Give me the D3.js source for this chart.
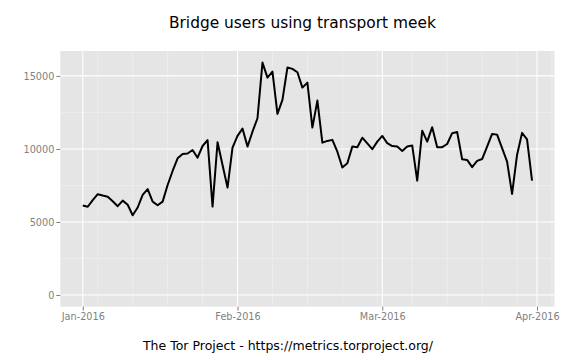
<!DOCTYPE html>
<html><head><meta charset="utf-8">
<script src="https://cdn.jsdelivr.net/npm/d3@7/dist/d3.min.js"></script>
<style>body{margin:0;background:#fff}svg{display:block}text{font-family:"DejaVu Sans",sans-serif}</style>
</head><body><svg id="c" width="576" height="360"></svg>
<script>
const startDate = "2016-01-01";
const users = [6130,6040,6500,6900,6810,6730,6420,6080,6460,6180,
5460,5990,6850,7250,6390,6140,6390,7530,8490,9360,
9660,9690,9930,9400,10200,10600,6050,10460,8900,7350,
10090,10890,11390,10160,11180,12100,15910,14880,15290,12400,
13360,15570,15480,15250,14200,14540,11460,13310,10430,10550,
10620,9810,8730,9020,10160,10120,10770,10380,9980,10500,
10890,10390,10200,10160,9860,10160,10230,7830,11250,10500,
11490,10120,10120,10340,11080,11160,9290,9250,8750,9180,
9310,10160,11030,10980,10050,9130,6920,9590,11100,10660,7830];
const yTicks = [0,5000,10000,15000];
const yMinor = [2500,7500,12500];
const xTickDates = ["2016-01-01","2016-02-01","2016-03-01","2016-04-01"];
const xTickLabels = ["Jan-2016","Feb-2016","Mar-2016","Apr-2016"];
const title = "Bridge users using transport meek";
const caption = "The Tor Project - https://metrics.torproject.org/";

const day = 86400000;
const t0 = Date.parse(startDate+"T00:00:00Z");
const data = users.map((v,i)=>({date:new Date(t0+i*day), v}));

const W=576,H=360;
const P={l:60.3,r:554.5,t:51,b:306.6};
const svg=d3.select("#c");

const dMin=data[0].date.getTime(), dMax=data[data.length-1].date.getTime();
const dx=(dMax-dMin)*0.05;
const x=d3.scaleUtc().domain([new Date(dMin-dx),new Date(dMax+dx)]).range([P.l,P.r]);
const ymax=d3.max(users);
const y=d3.scaleLinear().domain([-0.05*ymax,1.05*ymax]).range([P.b,P.t]);

svg.append("rect").attr("x",P.l).attr("y",P.t).attr("width",P.r-P.l).attr("height",P.b-P.t).attr("fill","#e5e5e5");

const g=svg.append("g");
// minor grid
g.selectAll(".ym").data(yMinor).join("line").attr("x1",P.l).attr("x2",P.r)
 .attr("y1",d=>y(d)).attr("y2",d=>y(d)).attr("stroke","#f2f2f2").attr("stroke-width",0.6);
const weeks=d3.utcMonday.range(x.domain()[0],x.domain()[1]).filter(d=>d.getUTCDate()!==1 && d>=new Date("2016-01-02T00:00:00Z"));
g.selectAll(".xm").data(weeks).join("line").attr("y1",P.t).attr("y2",P.b)
 .attr("x1",d=>x(d)).attr("x2",d=>x(d)).attr("stroke","#f2f2f2").attr("stroke-width",0.6);
// major grid
g.selectAll(".yM").data(yTicks).join("line").attr("x1",P.l).attr("x2",P.r)
 .attr("y1",d=>y(d)).attr("y2",d=>y(d)).attr("stroke","#fff").attr("stroke-width",1.1);
const xt=xTickDates.map(s=>new Date(s+"T00:00:00Z"));
g.selectAll(".xM").data(xt).join("line").attr("y1",P.t).attr("y2",P.b)
 .attr("x1",d=>x(d)).attr("x2",d=>x(d)).attr("stroke","#fff").attr("stroke-width",1.1);

// line
svg.append("path").datum(data).attr("fill","none").attr("stroke","#000").attr("stroke-width",2)
 .attr("stroke-linejoin","round")
 .attr("d",d3.line().x(d=>x(d.date)).y(d=>y(d.v)));

// axes
const yAxis=d3.axisLeft(y).tickValues(yTicks).tickSize(4).tickPadding(2).tickFormat(d3.format("d"));
const ya=svg.append("g").attr("transform",`translate(${P.l},0)`).call(yAxis);
const xAxis=d3.axisBottom(x).tickValues(xt).tickSize(4).tickPadding(3).tickFormat((d,i)=>xTickLabels[i]);
const xa=svg.append("g").attr("transform",`translate(0,${P.b})`).call(xAxis);
[ya,xa].forEach(a=>{a.select(".domain").remove();
 a.selectAll(".tick line").attr("stroke","#7f7f7f");
 a.selectAll(".tick text").attr("fill","#7f7f7f").style("font-size","9.7px").style("font-family","DejaVu Sans");});

svg.append("text").attr("x",(P.l+P.r)/2-5).attr("y",27.5).attr("text-anchor","middle")
 .style("font-size","15.4px").attr("fill","#000").text(title);
svg.append("text").attr("x",W/2).attr("y",350).attr("text-anchor","middle")
 .style("font-size","12.5px").attr("fill","#000").text(caption);
</script></body></html>
